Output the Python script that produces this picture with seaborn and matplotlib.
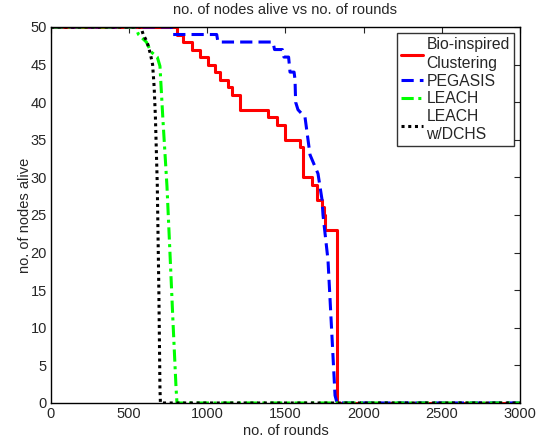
import matplotlib
matplotlib.use("Agg")
import matplotlib.pyplot as plt
import seaborn as sns
import numpy as np

# Data
bio_rounds = [0, 806, 844, 902, 953, 1004, 1049, 1081, 1132, 1158, 1209, 1388, 1446, 1497,
              1593, 1612, 1670, 1702, 1734, 1745, 1753, 1827, 3000]
bio_alive = [50, 49, 48, 47, 46, 45, 44, 43, 42, 41, 39, 38, 37, 35,
             34, 30, 29, 27, 26, 25, 23, 0, 0]

peg_rounds = [0, 770, 780, 1060, 1068, 1420, 1430, 1480, 1490, 1520, 1529, 1555, 1561,
              1565, 1580, 1625, 1657, 1708, 1734, 1740, 1772, 1817, 1830, 3000]
peg_alive = [50, 50, 49, 49, 48, 48, 47, 47, 46, 46, 44, 44, 43,
             40, 39, 38, 33, 30.5, 27, 25, 19, 1, 0, 0]

leach_rounds = [0, 540, 560, 585, 610, 640, 680, 697, 716, 742, 761, 780, 800, 806, 3000]
leach_alive = [50, 50, 49, 48.5, 48, 46.7, 46, 44.8, 37.7, 28.8, 20, 11, 2, 0, 0]

dchs_rounds = [0, 575, 590, 615, 635, 650, 660, 668, 680, 690, 697, 700, 3000]
dchs_alive = [50, 50, 49, 48, 46.5, 45, 42, 38, 29, 15, 2, 0, 0]

x_ticks = [0, 500, 1000, 1500, 2000, 2500, 3000]
y_ticks = [0, 5, 10, 15, 20, 25, 30, 35, 40, 45, 50]

sns.set_style("white")
plt.rcParams['font.family'] = ['Liberation Sans', 'DejaVu Sans']
plt.rcParams['xtick.direction'] = 'in'
plt.rcParams['ytick.direction'] = 'in'

fig = plt.figure(figsize=(5.47, 4.41), dpi=100)
ax = fig.add_axes([0.0932, 0.0862, 0.8574, 0.8526])

lw = 2.2
sns.lineplot(x=bio_rounds, y=bio_alive, ax=ax, color=(1, 0, 0), lw=lw,
             drawstyle='steps-post', estimator=None, sort=False,
             label='Bio-inspired\nClustering')
sns.lineplot(x=peg_rounds, y=peg_alive, ax=ax, color=(0, 0, 1), lw=lw,
             estimator=None, sort=False, label='PEGASIS', dashes=False)
sns.lineplot(x=leach_rounds, y=leach_alive, ax=ax, color=(0, 1, 0), lw=lw,
             estimator=None, sort=False, label='LEACH')
sns.lineplot(x=dchs_rounds, y=dchs_alive, ax=ax, color=(0, 0, 0), lw=lw,
             estimator=None, sort=False, label='LEACH\nw/DCHS')

lines = ax.get_lines()
lines[1].set_dashes((4, 2))
lines[2].set_dashes((4, 1.5, 1, 1.5))
lines[3].set_dashes((1, 1.2))

ax.set_xlim(0, 3000)
ax.set_ylim(0, 50)
ax.set_xticks(x_ticks)
ax.set_yticks(y_ticks)
ax.tick_params(axis='both', labelsize=10.5, length=4, width=0.8,
               top=True, right=True, pad=3)
for s in ax.spines.values():
    s.set_visible(True)
    s.set_color('black')
    s.set_linewidth(1.0)

ax.set_xlabel('no. of rounds', fontsize=10.5, labelpad=2)
ax.set_ylabel('no. of nodes alive', fontsize=10.5, labelpad=-1)
ax.set_title('no. of nodes alive vs no. of rounds', fontsize=10.5, pad=9)

leg = ax.legend(loc='upper right', fontsize=11.3, frameon=True, fancybox=False,
                handlelength=1.4, handletextpad=0.2, borderpad=0.25,
                labelspacing=0.16, borderaxespad=0.4)
for t in leg.get_texts():
    t.set_linespacing(1.32)
leg.get_frame().set_edgecolor('black')
leg.get_frame().set_linewidth(1.0)

fig.savefig('out.png', dpi=100)
